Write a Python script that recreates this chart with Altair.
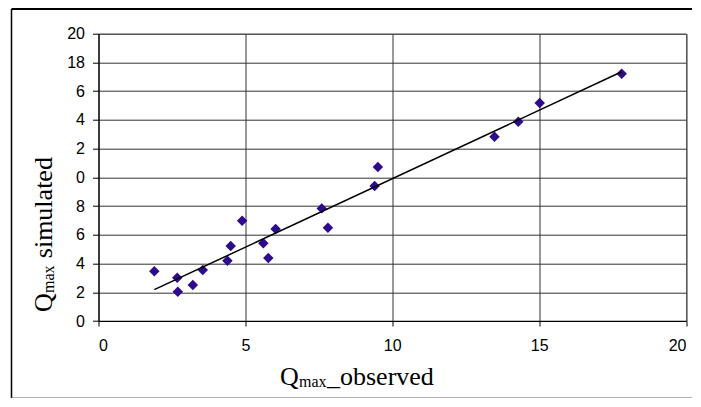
import altair as alt
import pandas as pd

# Observed vs simulated Qmax
q_observed = [1.90, 2.68, 2.70, 3.21, 3.55, 4.39, 4.50, 4.89, 5.61, 5.78,
              6.03, 7.60, 7.81, 9.40, 9.51, 13.48, 14.29, 15.02, 17.81]
q_simulated = [3.46, 3.01, 2.04, 2.51, 3.55, 4.20, 5.22, 6.98, 5.41, 4.38,
               6.40, 7.84, 6.49, 9.39, 10.72, 12.83, 13.87, 15.17, 17.21]

x_ticks = [0, 5, 10, 15, 20]
y_ticks = [0, 2, 4, 6, 8, 10, 12, 14, 16, 18, 20]
# tick labels exactly as printed in the reference (two-digit labels clipped)
y_tick_labels = ["0", "2", "4", "6", "8", "0", "2", "4", "6", "18", "20"]

df = pd.DataFrame({"obs": q_observed, "sim": q_simulated})

W, H = 587.5, 287.3

label_map = "{" + ",".join(f"'{v}':'{t}'" for v, t in zip(y_ticks, y_tick_labels)) + "}"

x_enc = alt.X("obs:Q", scale=alt.Scale(domain=[0, 20], nice=False),
              axis=alt.Axis(values=x_ticks, title=None, grid=True, gridColor="#333333",
                            tickSize=5, tickColor="#000000", domainColor="#000000",
                            labelFont="Liberation Sans", labelFontSize=16, labelColor="#000000",
                            labelPadding=11, labelOverlap=False))
y_enc = alt.Y("sim:Q", scale=alt.Scale(domain=[0, 20], nice=False),
              axis=alt.Axis(values=y_ticks, title=None, grid=True, gridColor="#333333",
                            tickSize=6, tickColor="#000000", domainColor="#000000",
                            labelFont="Liberation Sans", labelFontSize=16, labelColor="#000000",
                            labelPadding=8, labelOverlap=False,
                            labelExpr=f"{label_map}[toString(datum.value)]"))

points = alt.Chart(df).mark_point(shape="diamond", filled=True, size=110,
                                  color="#2E0A8C", opacity=1).encode(x=x_enc, y=y_enc)

trend = alt.Chart(df).transform_regression("obs", "sim").mark_line(
    color="#000000", strokeWidth=1.5).encode(x=x_enc, y=y_enc)

serif = "Liberation Serif"

def txt(text, x, y, size, angle=0):
    return alt.Chart(pd.DataFrame({"t": [text]})).mark_text(
        font=serif, fontSize=size, color="#000000", align="left",
        baseline="alphabetic", angle=angle).encode(
        text="t:N", x=alt.value(x), y=alt.value(y))

titles = [
    txt("Q", 181.5, 350.8, 26),
    txt("max", 200.5, 353.0, 16),
    txt("_observed", 228.5, 350.8, 26),
    txt("Q", -47.0, 278.3, 26, 270),
    txt("max", -45.0, 259.3, 16, 270),
    txt("simulated", -47.0, 224.5, 26, 270),
]

# outer chart-area frame
frame = [
    alt.Chart(pd.DataFrame({"a": [0]})).mark_rule(color="#000000", strokeWidth=2).encode(
        x=alt.value(-87), x2=alt.value(594), y=alt.value(-24.7)),
    alt.Chart(pd.DataFrame({"a": [0]})).mark_rule(color="#000000", strokeWidth=1.5).encode(
        x=alt.value(-87), y=alt.value(-24.7), y2=alt.value(364.5)),
    alt.Chart(pd.DataFrame({"a": [0]})).mark_rule(color="#666666", strokeWidth=1.5).encode(
        x=alt.value(-87), x2=alt.value(594), y=alt.value(364.5)),
]

chart = alt.layer(points, trend, *titles, *frame).properties(
    width=W, height=H,
    autosize=alt.AutoSizeParams(type="none"),
    padding={"left": 90.5, "top": 25.7, "right": 6, "bottom": 77},
    background="#ffffff",
).configure_view(stroke="#808080", strokeWidth=1)

chart.save("out.html", embed_options={"renderer": "svg", "actions": False})
